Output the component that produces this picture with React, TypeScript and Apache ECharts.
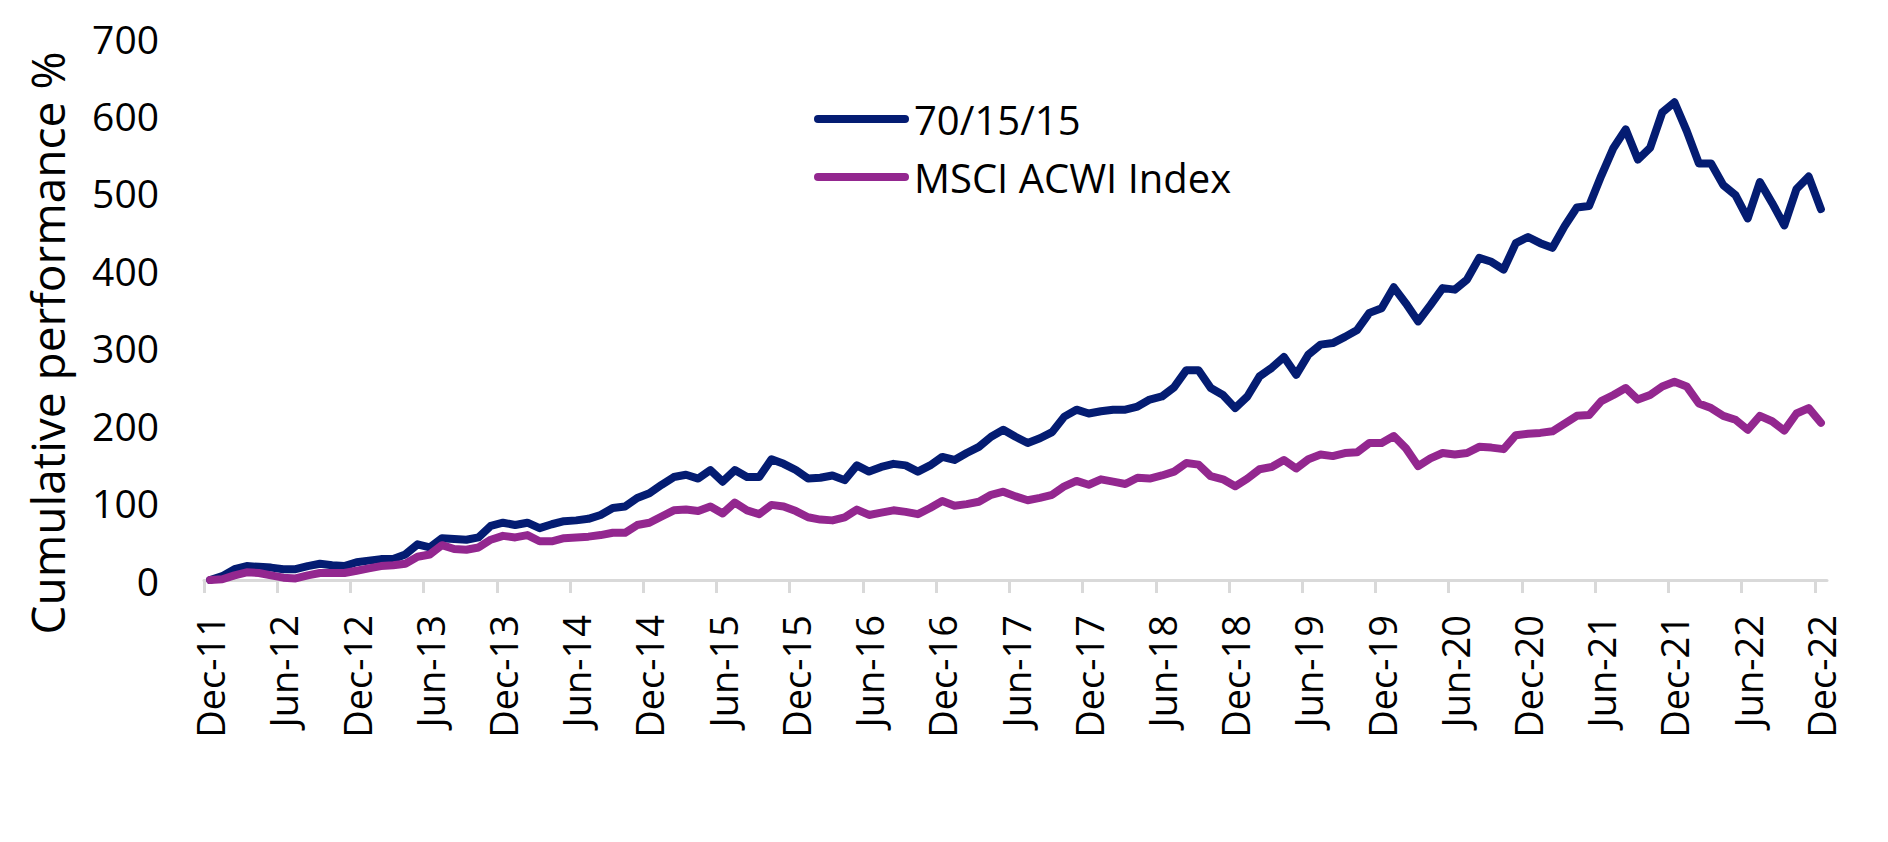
import React, { useEffect, useRef } from "react";
import * as echarts from "echarts";

const MONTH_NAMES = ["Jan", "Feb", "Mar", "Apr", "May", "Jun", "Jul", "Aug", "Sep", "Oct", "Nov", "Dec"];

// Monthly categories Dec-11 .. Dec-22
const categories: string[] = (() => {
  const out: string[] = [];
  for (let k = 0; k <= 132; k++) {
    const m = (11 + k) % 12;
    const y = 11 + Math.floor((11 + k) / 12);
    out.push(`${MONTH_NAMES[m]}-${String(y).padStart(2, "0")}`);
  }
  return out;
})();

const seriesNames = ["70/15/15", "MSCI ACWI Index"];

const portfolio = [
  0, 5, 14, 18, 17, 16, 14, 14, 18, 21, 19, 18,
  23, 25, 27, 27, 33, 46, 42, 54, 53, 52, 55, 70,
  74, 71, 74, 67, 72, 76, 77, 79, 84, 93, 95, 106,
  112, 123, 133, 136, 131, 142, 127, 142, 133, 133, 156, 150,
  142, 131, 132, 135, 129, 148, 140, 146, 150, 148, 140, 148,
  159, 155, 164, 172, 185, 194, 185, 177, 183, 191, 211, 220,
  215, 218, 220, 220, 224, 233, 237, 249, 271, 271, 248, 239,
  222, 237, 263, 274, 288, 265, 291, 304, 306, 314, 323, 345,
  351, 378, 357, 334, 355, 377, 375, 388, 416, 411, 401, 435,
  443, 435, 429, 457, 481, 483, 522, 558, 582, 543, 558, 604,
  617, 580, 538, 538, 510, 497, 467, 514, 487, 458, 505, 521,
  479,
];

const msciAcwi = [
  0, 1, 6, 10, 9, 6, 3, 2, 6, 9, 9, 9,
  12, 15, 18, 19, 21, 30, 33, 45, 40, 39, 42, 52,
  57, 55, 58, 50, 50, 54, 55, 56, 58, 61, 61, 71,
  74, 82, 90, 91, 89, 95, 86, 100, 90, 85, 97, 95,
  89, 81, 78, 77, 81, 91, 84, 87, 90, 88, 85, 93,
  102, 96, 98, 101, 110, 114, 108, 103, 106, 110, 121, 128,
  123, 130, 127, 124, 132, 131, 135, 140, 151, 149, 134, 130,
  121, 131, 143, 146, 155, 144, 156, 162, 160, 164, 165, 177,
  177, 186, 170, 147, 157, 164, 162, 164, 172, 171, 169, 187,
  189, 190, 192, 202, 212, 213, 231, 239, 248, 233, 239, 250,
  256, 250, 228, 222, 212, 207, 194, 212, 205, 193, 215, 222,
  203,
];

// tick marks at category boundaries every 6 months
const tickBoundaries: number[] = [];
for (let b = 0; b <= 132; b += 6) tickBoundaries.push(b);

const NAVY = "#041c72";
const PURPLE = "#93278f";
const FONT = "Open Sans";

export default function App() {
  const ref = useRef<HTMLDivElement>(null);

  useEffect(() => {
    if (!ref.current) return;
    const chart = echarts.init(ref.current, undefined, { renderer: "svg" });
    const legendIcon = "path://M4,0 L91,0 A4,4 0 0 1 91,8 L4,8 A4,4 0 0 1 4,0 Z";
    chart.setOption({
      animation: false,
      backgroundColor: "#ffffff",
      grid: { left: 204, right: 61, top: 38, bottom: 262 },
      legend: {
        orient: "vertical",
        left: 814,
        top: 99,
        padding: 0,
        itemWidth: 95,
        itemHeight: 8,
        itemGap: 18,
        icon: legendIcon,
        textStyle: { fontSize: 40, lineHeight: 40, color: "#000", fontFamily: FONT },
        data: seriesNames,
      },
      xAxis: [
        {
          type: "category",
          data: categories,
          boundaryGap: true,
          axisLine: { show: true, lineStyle: { color: "#d9d9d9", width: 3 } },
          axisTick: { show: false },
          axisLabel: {
            interval: 5,
            rotate: 90,
            margin: 35,
            fontSize: 38,
            color: "#000",
            fontFamily: FONT,
          },
          splitLine: { show: false },
        },
        {
          type: "value",
          position: "bottom",
          min: 0,
          max: 133,
          interval: 6,
          axisLine: { show: false },
          axisLabel: { show: false },
          splitLine: { show: false },
          axisTick: {
            show: true,
            customValues: tickBoundaries,
            length: 13,
            lineStyle: { color: "#d9d9d9", width: 3 },
          },
        },
      ],
      yAxis: {
        type: "value",
        min: 0,
        max: 700,
        interval: 100,
        axisLine: { show: false },
        axisTick: { show: false },
        splitLine: { show: false },
        axisLabel: { margin: 45, fontSize: 39, color: "#000", fontFamily: FONT },
      },
      graphic: [
        {
          type: "text",
          x: 47,
          y: 343,
          rotation: Math.PI / 2,
          style: {
            text: "Cumulative performance %",
            fontSize: 46,
            fontFamily: FONT,
            fill: "#000",
            align: "center",
            verticalAlign: "middle",
            textAlign: "center",
            textVerticalAlign: "middle",
          },
        },
      ],
      series: [
        {
          name: seriesNames[0],
          type: "line",
          xAxisIndex: 0,
          data: portfolio,
          symbol: "none",
          itemStyle: { color: NAVY },
          lineStyle: { color: NAVY, width: 8, cap: "round", join: "round" },
        },
        {
          name: seriesNames[1],
          type: "line",
          xAxisIndex: 0,
          data: msciAcwi,
          symbol: "none",
          itemStyle: { color: PURPLE },
          lineStyle: { color: PURPLE, width: 8, cap: "round", join: "round" },
        },
      ],
    });
    return () => chart.dispose();
  }, []);

  return (
    <div
      ref={ref}
      style={{ position: "absolute", left: 0, top: 0, width: 1888, height: 842, background: "#fff" }}
    />
  );
}
